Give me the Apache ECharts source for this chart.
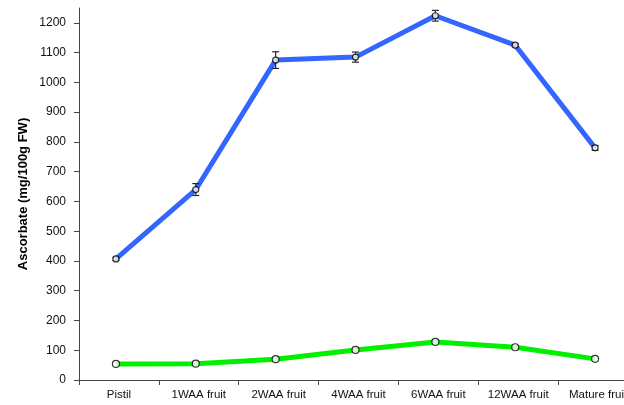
<!DOCTYPE html>
<html>
<head>
<meta charset="utf-8">
<script src="https://cdn.jsdelivr.net/npm/echarts@6/dist/echarts.min.js"></script>
<style>
  html, body { margin: 0; padding: 0; background: #fff; overflow: hidden; }
  #chart { width: 640px; height: 405px; }
</style>
</head>
<body>
<div id="chart"></div>
<script>
// Developmental stages along the x axis
const categories = ['Pistil', '1WAA fruit', '2WAA fruit', '4WAA fruit', '6WAA fruit', '12WAA fruit', 'Mature fruit'];

// Ascorbate content (mg/100g FW), upper series with standard errors
const blueValues = [407, 640, 1075, 1085, 1224, 1125, 780];
const blueErrors = [5, 20, 28, 17, 18, 5, 8];

// Lower series
const greenValues = [54, 55, 70, 101, 128, 110, 71];

// Labelled ticks on the value axis
const yTicks = [0, 100, 200, 300, 400, 500, 600, 700, 800, 900, 1000, 1100, 1200];

const FONT = 'Liberation Sans, Arial, sans-serif';
const AXIS_COLOR = '#454545';

function errorBarItem(params, api) {
  const x = api.value(0);
  const v = api.value(1);
  const e = api.value(2);
  const top = api.coord([x, v + e]);
  const bot = api.coord([x, v - e]);
  const hw = 3.5;
  const style = { stroke: '#2a2a2a', lineWidth: 1.2 };
  return {
    type: 'group',
    children: [
      { type: 'line', shape: { x1: top[0], y1: top[1], x2: bot[0], y2: bot[1] }, style },
      { type: 'line', shape: { x1: top[0] - hw, y1: top[1], x2: top[0] + hw, y2: top[1] }, style },
      { type: 'line', shape: { x1: bot[0] - hw, y1: bot[1], x2: bot[0] + hw, y2: bot[1] }, style }
    ]
  };
}

const chart = echarts.init(document.getElementById('chart'), null, { renderer: 'canvas' });

chart.setOption({
  backgroundColor: '#ffffff',
  animation: false,
  grid: [
    { left: 79, width: 559, top: 8, bottom: 25, containLabel: false },
    { left: 76, width: 559, top: 8, bottom: 25, containLabel: false }
  ],
  xAxis: [
    {
      type: 'category',
      gridIndex: 0,
      data: categories,
      boundaryGap: true,
      axisLine: { lineStyle: { color: AXIS_COLOR, width: 1 } },
      axisTick: { show: true, interval: 0, alignWithLabel: false, length: 5, lineStyle: { color: AXIS_COLOR, width: 1 } },
      axisLabel: { color: '#111', fontFamily: FONT, fontSize: 11.5, margin: 9, interval: 0 },
      splitLine: { show: false }
    },
    {
      type: 'category',
      gridIndex: 1,
      data: categories,
      boundaryGap: true,
      show: false
    }
  ],
  yAxis: [
    {
      type: 'value',
      gridIndex: 0,
      min: 0,
      max: 1250,
      interval: 50,
      name: 'Ascorbate (mg/100g FW)',
      nameLocation: 'middle',
      nameGap: 49,
      nameMoveOverlap: false,
      nameRotate: 90,
      nameTextStyle: { color: '#000', fontFamily: FONT, fontSize: 13, fontWeight: 'bold' },
      axisLine: { show: true, lineStyle: { color: AXIS_COLOR, width: 1 } },
      axisTick: { show: true, inside: false, length: 5, lineStyle: { color: AXIS_COLOR }, customValues: yTicks },
      axisLabel: {
        color: '#111', fontFamily: FONT, fontSize: 12, margin: 13,
        customValues: yTicks,
        formatter: v => String(v)
      },
      splitLine: { show: false }
    },
    {
      type: 'value',
      gridIndex: 1,
      min: 0,
      max: 1250,
      show: false,
      splitLine: { show: false }
    }
  ],
  series: [
    {
      type: 'line',
      xAxisIndex: 1, yAxisIndex: 1,
      data: blueValues,
      showSymbol: false,
      lineStyle: { color: '#3366ff', width: 5 },
      z: 2
    },
    {
      type: 'line',
      xAxisIndex: 1, yAxisIndex: 1,
      data: greenValues,
      showSymbol: false,
      lineStyle: { color: '#00f000', width: 5 },
      z: 2
    },
    {
      type: 'custom',
      xAxisIndex: 1, yAxisIndex: 1,
      renderItem: errorBarItem,
      data: blueValues.map((v, i) => [i, v, blueErrors[i]]),
      z: 3
    },
    {
      type: 'scatter',
      xAxisIndex: 1, yAxisIndex: 1,
      data: blueValues,
      symbol: 'circle',
      symbolSize: 6,
      itemStyle: { color: '#ffffff', borderColor: '#000', borderWidth: 1.2 },
      z: 4
    },
    {
      type: 'scatter',
      xAxisIndex: 1, yAxisIndex: 1,
      data: greenValues,
      symbol: 'circle',
      symbolSize: 7,
      itemStyle: { color: '#ffffff', borderColor: '#000', borderWidth: 1.2 },
      z: 4
    }
  ]
});
</script>
</body>
</html>
